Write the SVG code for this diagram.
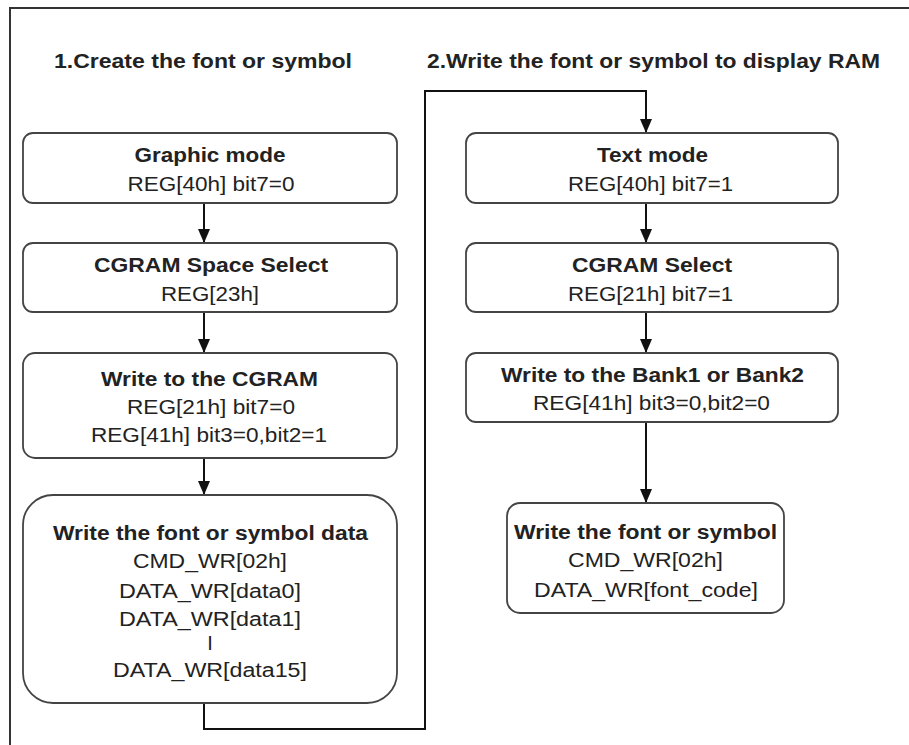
<svg xmlns="http://www.w3.org/2000/svg" width="909" height="745" viewBox="0 0 909 745">
<defs>
<style>
.box{fill:#fff;stroke:#444;stroke-width:1.8}
.t{font-family:"Liberation Sans",Arial,sans-serif;font-size:20px;fill:#222;text-anchor:middle}
.b{font-weight:bold}
.h{font-family:"Liberation Sans",Arial,sans-serif;font-size:20.5px;font-weight:bold;fill:#222}
.c{fill:none;stroke:#111;stroke-width:2}
.f{fill:none;stroke:#333;stroke-width:2}
</style>
<marker id="ah" viewBox="0 0 10 10" refX="10" refY="5" markerWidth="14" markerHeight="12" markerUnits="userSpaceOnUse" orient="auto" preserveAspectRatio="none">
<path d="M0,0 L10,5 L0,10 Z" fill="#111"/>
</marker>
</defs>
<rect width="909" height="745" fill="#fff"/>
<g id="frame">
<path class="f" d="M10,745 V8 H909"/>
</g>
<g id="titles">
<text class="h" x="54" y="68" textLength="298" lengthAdjust="spacingAndGlyphs">1.Create the font or symbol</text>
<text class="h" x="427" y="68" textLength="453" lengthAdjust="spacingAndGlyphs">2.Write the font or symbol to display RAM</text>
</g>
<g id="connectors">
<path class="c" d="M204,203 V243" marker-end="url(#ah)"/>
<path class="c" d="M204,312 V353" marker-end="url(#ah)"/>
<path class="c" d="M204,458 V495" marker-end="url(#ah)"/>
<path class="c" d="M204,703 V729 H425 V91 H646 V133" marker-end="url(#ah)"/>
<path class="c" d="M646,203 V243" marker-end="url(#ah)"/>
<path class="c" d="M646,312 V353" marker-end="url(#ah)"/>
<path class="c" d="M646,422 V503" marker-end="url(#ah)"/>
</g>
<g id="n1">
<rect class="box" x="23" y="133" width="374" height="70" rx="10"/>
<text class="t b" x="210" y="162" textLength="151" lengthAdjust="spacingAndGlyphs">Graphic mode</text>
<text class="t" x="211" y="191" textLength="167" lengthAdjust="spacingAndGlyphs">REG[40h] bit7=0</text>
</g>
<g id="n2">
<rect class="box" x="23" y="243" width="374" height="69" rx="10"/>
<text class="t b" x="211" y="272" textLength="234" lengthAdjust="spacingAndGlyphs">CGRAM Space Select</text>
<text class="t" x="210" y="301" textLength="98" lengthAdjust="spacingAndGlyphs">REG[23h]</text>
</g>
<g id="n3">
<rect class="box" x="23" y="353" width="374" height="105" rx="12"/>
<text class="t b" x="209.5" y="386" textLength="217" lengthAdjust="spacingAndGlyphs">Write to the CGRAM</text>
<text class="t" x="211" y="414" textLength="168" lengthAdjust="spacingAndGlyphs">REG[21h] bit7=0</text>
<text class="t" x="209" y="442" textLength="236" lengthAdjust="spacingAndGlyphs">REG[41h] bit3=0,bit2=1</text>
</g>
<g id="n4">
<rect class="box" x="23" y="495" width="374" height="208" rx="30"/>
<text class="t b" x="210.5" y="540" textLength="315" lengthAdjust="spacingAndGlyphs">Write the font or symbol data</text>
<text class="t" x="210" y="568" textLength="154" lengthAdjust="spacingAndGlyphs">CMD_WR[02h]</text>
<text class="t" x="210" y="598" textLength="182" lengthAdjust="spacingAndGlyphs">DATA_WR[data0]</text>
<text class="t" x="210" y="626" textLength="182" lengthAdjust="spacingAndGlyphs">DATA_WR[data1]</text>
<text class="t" x="210" y="650">I</text>
<text class="t" x="210" y="677" textLength="194" lengthAdjust="spacingAndGlyphs">DATA_WR[data15]</text>
</g>
<g id="r1">
<rect class="box" x="466" y="133" width="372" height="70" rx="10"/>
<text class="t b" x="652.5" y="162" textLength="111" lengthAdjust="spacingAndGlyphs">Text mode</text>
<text class="t" x="650.5" y="191" textLength="165" lengthAdjust="spacingAndGlyphs">REG[40h] bit7=1</text>
</g>
<g id="r2">
<rect class="box" x="466" y="243" width="372" height="69" rx="10"/>
<text class="t b" x="652" y="272" textLength="160" lengthAdjust="spacingAndGlyphs">CGRAM Select</text>
<text class="t" x="650.5" y="301" textLength="165" lengthAdjust="spacingAndGlyphs">REG[21h] bit7=1</text>
</g>
<g id="r3">
<rect class="box" x="466" y="353" width="372" height="69" rx="10"/>
<text class="t b" x="652.5" y="382" textLength="303" lengthAdjust="spacingAndGlyphs">Write to the Bank1 or Bank2</text>
<text class="t" x="651.5" y="410" textLength="237" lengthAdjust="spacingAndGlyphs">REG[41h] bit3=0,bit2=0</text>
</g>
<g id="r4">
<rect class="box" x="507" y="503" width="277" height="110" rx="13"/>
<text class="t b" x="645.5" y="539" textLength="263" lengthAdjust="spacingAndGlyphs">Write the font or symbol</text>
<text class="t" x="645.5" y="567" textLength="155" lengthAdjust="spacingAndGlyphs">CMD_WR[02h]</text>
<text class="t" x="646" y="597" textLength="224" lengthAdjust="spacingAndGlyphs">DATA_WR[font_code]</text>
</g>
</svg>
